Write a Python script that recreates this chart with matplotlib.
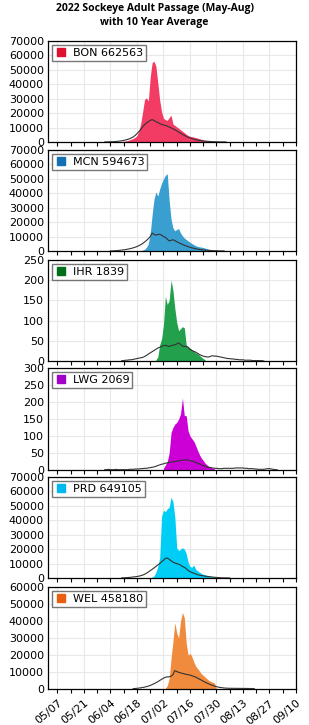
import pandas as pd
import matplotlib
matplotlib.use("Agg")
import matplotlib.pyplot as plt
import matplotlib.dates as mdates
from matplotlib.lines import Line2D

# station codes, totals and colours
stations = ["BON", "MCN", "IHR", "LWG", "PRD", "WEL"]
totals = [662563, 594673, 1839, 2069, 649105, 458180]
fill_colors = ["#f23c64", "#389fd0", "#22a04c", "#cc00d6", "#00cdf5", "#f08a3c"]
key_colors = ["#e0102f", "#1470b0", "#006f1a", "#a000c8", "#00b8f0", "#e8600f"]
y_max = [70000, 70000, 250, 300, 70000, 60000]
y_step = [10000, 10000, 50, 50, 10000, 10000]

# 2022 daily counts (first day, then one value per day)
bon_start = "2022-06-06"
bon_2022 = [50, 80, 120, 200, 300, 500, 700, 1000, 1500, 1900, 2500, 3200,
            4500, 7500, 13000, 21000, 29500, 30500, 28500, 45000, 55000, 56000,
            52500, 41000, 29000, 21000, 16500, 15500, 15000, 17000, 18500, 12500,
            11500, 10500, 9500, 8500, 7500, 6500, 5500, 4500, 4000, 3700, 3400,
            3100, 2700, 2300, 1900, 1500, 1100, 800, 600, 450, 300, 200, 150, 100,
            80, 60, 50, 40, 30]
mcn_start = "2022-06-18"
mcn_2022 = [100, 200, 300, 600, 1200, 2500, 5000, 12000, 25000, 36000, 41000,
            38000, 43000, 47000, 50000, 52500, 53500, 35000, 22000, 16000, 14000,
            15000, 15500, 12500, 10500, 9000, 8000, 7000, 6000, 5200, 4400, 3700,
            3200, 2900, 2700, 2400, 2000, 1600, 1200, 900, 600, 400, 300, 200, 150,
            100, 80, 60, 40]
ihr_start = "2022-06-28"
ihr_2022 = [3, 10, 40, 55, 90, 160, 140, 150, 200, 175, 130, 95, 75, 80, 85, 82,
            40, 35, 32, 28, 24, 20, 18, 14, 10, 6, 3]
lwg_start = "2022-07-02"
lwg_2022 = [5, 15, 25, 50, 110, 125, 135, 140, 150, 165, 212, 160, 160, 115, 100,
            92, 85, 72, 58, 45, 35, 28, 20, 15, 10, 8, 5, 3]
prd_start = "2022-06-25"
prd_2022 = [200, 500, 1500, 4000, 8000, 14000, 43000, 47000, 46000, 48000, 49000,
            56000, 53000, 42000, 21000, 19000, 20000, 21000, 20000, 17000, 11000,
            8000, 7500, 9000, 6000, 5000, 4000, 3200, 2600, 2200, 1800, 1500,
            1000, 700, 500, 300, 100]
wel_start = "2022-07-03"
wel_2022 = [500, 2000, 6000, 18000, 28000, 39000, 33000, 30000, 40000, 45000,
            42000, 27000, 20000, 21000, 19000, 16000, 13500, 12000, 10500, 9000,
            8000, 7000, 6000, 5000, 4500, 4000, 3500, 0]

# 10 year average daily counts
bon_avg_start = "2022-06-01"
bon_avg = [50, 70, 100, 150, 200, 280, 380, 500, 650, 850, 1100, 1400, 1800,
           2200, 2800, 3500, 4500, 5800, 7200, 8800, 10500, 12000, 13200, 14000,
           15000, 15500, 15000, 14000, 13600, 12800, 12200, 11800, 11500, 11000,
           10400, 9800, 9200, 8500, 7700, 6900, 6100, 5300, 4600, 3900, 3300,
           2800, 2300, 1900, 1600, 1300, 1100, 900, 750, 600, 500, 400, 320, 250,
           200, 150, 120, 100, 80, 60, 50]
mcn_avg_start = "2022-06-04"
mcn_avg = [50, 100, 150, 250, 350, 500, 650, 800, 1000, 1250, 1500, 1800, 2200,
           2600, 3100, 3700, 4400, 5200, 6200, 7300, 8500, 10000, 12500, 11500,
           11000, 11400, 11600, 11000, 10000, 9500, 8200, 7000, 7400, 7800, 7200,
           6400, 5800, 5200, 4600, 4000, 3500, 3000, 2600, 2200, 1900, 1600, 1300,
           1100, 900, 750, 600, 500, 400, 320, 250, 200, 150, 120, 90, 70, 50]
ihr_avg_start = "2022-06-10"
ihr_avg = [1, 1, 2, 2, 3, 3, 4, 5, 6, 7, 8, 9, 11, 14, 17, 20, 23, 26, 29, 32, 34,
           36, 38, 39, 37, 36, 38, 39, 40, 42, 45, 41, 37, 36, 36, 34, 29, 26, 24,
           22, 19, 16, 14, 12, 11, 10, 10, 12, 13, 12, 12, 11,
           10, 9, 8, 7, 6, 6, 5, 5, 4, 4, 3, 3, 3, 2, 2, 2, 2, 1, 1, 1, 1, 1, 1, 0]
lwg_avg_start = "2022-06-01"
lwg_avg = [1, 1, 2, 1, 1, 1, 2, 1, 1, 1, 1, 1, 1, 2, 2, 2, 3, 3, 3, 4, 4, 5, 5, 6,
           7, 8, 9, 11, 13, 15,
           17, 18, 20, 21, 22, 23, 24, 25, 26, 27, 28, 29, 29, 30, 29, 28, 26, 25,
           22, 20, 18, 15, 13, 11, 9, 8, 7, 6, 5, 5, 4,
           4, 4, 5, 5, 5, 5, 5, 5, 6, 6, 6, 6, 6, 5, 5, 4, 4, 4, 3, 3, 2, 2, 2, 2,
           3, 4, 4, 3, 2, 1, 1]
prd_avg_start = "2022-06-10"
prd_avg = [100, 150, 200, 300, 400, 550, 700, 850, 1000, 1300, 1600, 2000, 2600,
           3300, 4200, 5100, 6000, 7000, 8000, 9000, 10000,
           11200, 12300, 13600, 13800, 13000, 12000, 11000, 10400, 10000, 9500,
           9000, 8000, 7400, 6500, 5200, 4400, 3800, 3300, 2800, 2300, 2000, 1700,
           1500, 1300, 1100, 950, 800, 650, 500, 400, 300,
           220, 160, 120, 90, 60, 40]
wel_avg_start = "2022-06-16"
wel_avg = [200, 300, 400, 550, 700, 900, 1100, 1400, 1700, 2100, 2600, 3100, 3700,
           4300, 5000,
           5700, 6400, 6900, 7100, 7200, 7500, 8500, 10800, 10300, 9800, 9500,
           9200, 8900, 8600, 8400, 8200, 7800, 7400, 7000, 6400, 5800, 5200, 4600,
           4000, 3500, 3000, 2500, 2100, 1700, 1400, 1100,
           900, 750, 600, 500, 450, 420, 400, 400, 380, 380, 360, 350, 340, 330,
           320, 300, 280, 250, 200]

tick_days = ["05/07", "05/21", "06/04", "06/18", "07/02", "07/16", "07/30",
             "08/13", "08/27", "09/10"]

series = [(bon_start, bon_2022, bon_avg_start, bon_avg),
          (mcn_start, mcn_2022, mcn_avg_start, mcn_avg),
          (ihr_start, ihr_2022, ihr_avg_start, ihr_avg),
          (lwg_start, lwg_2022, lwg_avg_start, lwg_avg),
          (prd_start, prd_2022, prd_avg_start, prd_avg),
          (wel_start, wel_2022, wel_avg_start, wel_avg)]

W, H = 309, 725
fig = plt.figure(figsize=(W / 100, H / 100), dpi=100)
plt.rcParams["font.family"] = "DejaVu Sans"

fig.text(0.5, 1 - 9 / H, "2022 Sockeye Adult Passage (May-Aug)", ha="center",
         va="center", fontsize=7.5, fontweight="bold", family="Open Sans")
fig.text(0.5, 1 - 22 / H, "with 10 Year Average", ha="center", va="center",
         fontsize=7.5, fontweight="bold", family="Open Sans")

# panel edges in pixels (top, bottom)
panels = [(41, 142), (150, 251), (260, 361), (368, 470), (477, 578), (587, 689)]
left, right = 48, 296

major = pd.to_datetime(["2022/" + d for d in tick_days])
minor = pd.date_range("2022-05-07", "2022-09-10", freq="7D")

for i, (name, total) in enumerate(zip(stations, totals)):
    top, bot = panels[i]
    ax = fig.add_axes([left / W, 1 - bot / H, (right - left) / W, (bot - top) / H])
    s0, vals, a0, avg = series[i]
    d = pd.date_range(s0, periods=len(vals), freq="D")
    da = pd.date_range(a0, periods=len(avg), freq="D")
    ax.fill_between(d, 0, vals, color=fill_colors[i], lw=0, zorder=2)
    ax.plot(da, avg, color="#333333", lw=0.8, zorder=3)

    ax.set_xlim(pd.Timestamp("2022-05-02"), pd.Timestamp("2022-09-10"))
    ax.set_ylim(0, y_max[i])
    ax.set_yticks(range(0, y_max[i] + 1, y_step[i]))
    ax.set_xticks(major)
    ax.set_xticks(minor, minor=True)
    ax.xaxis.set_major_formatter(mdates.DateFormatter("%m/%d"))
    ax.grid(True, which="major", color="#e8e8e8", lw=0.8, zorder=0)
    ax.set_axisbelow(True)
    ax.tick_params(axis="y", length=0, labelsize=8, pad=3)
    ax.tick_params(axis="x", which="both", length=3, width=0.8, direction="out",
                   labelsize=8)
    for sp in ax.spines.values():
        sp.set_linewidth(0.9)
    if i < len(stations) - 1:
        ax.tick_params(axis="x", labelbottom=False)
    else:
        for lab in ax.get_xticklabels():
            lab.set_rotation(40)
            lab.set_ha("right")
            lab.set_rotation_mode("anchor")

    h = Line2D([], [], marker="s", color=key_colors[i], ls="none", markersize=5.5)
    leg = ax.legend([h], [f"{name} {total}"], loc="upper left", fontsize=8,
                    frameon=True, fancybox=False, borderpad=0.25,
                    handlelength=1.0, handletextpad=0.6, borderaxespad=0.4)
    leg.get_frame().set_edgecolor("#555555")
    leg.get_frame().set_linewidth(1.0)

fig.savefig("out.png", dpi=100)
